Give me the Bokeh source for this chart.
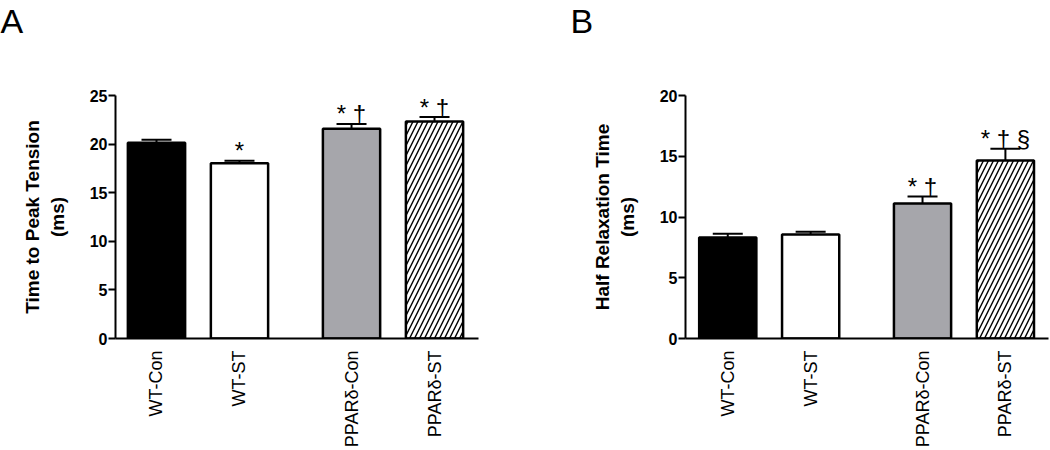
import math
from bokeh.plotting import figure
from bokeh.layouts import row
from bokeh.models import (ColumnDataSource, Range1d, FixedTicker, Whisker, TeeHead, Title)
from bokeh.core.properties import value
from bokeh.embed import file_html
from bokeh.resources import INLINE

# ---- data ----
groups = ["WT-Con", "WT-ST", "PPARδ-Con", "PPARδ-ST"]
xpos = [1.0, 2.0, 3.35, 4.35]
fills = ["black", "white", "#a6a6ab", "white"]
hatches = [" ", " ", " ", "/"]

ttp_mean = [20.13, 18.04, 21.57, 22.33]
ttp_sem = [0.31, 0.24, 0.50, 0.45]
ttp_marks = ["", "*", "* †", "* †"]

hrt_mean = [8.31, 8.56, 11.12, 14.65]
hrt_sem = [0.31, 0.23, 0.56, 0.97]
hrt_marks = ["", "", "* †", "* † §"]

FONT = "Liberation Sans"
TOP = 95       # px above frame
BOTTOM = 112   # px below frame
H = 450


def panel(letter, letter_offset, means, sems, marks, ymax, yticks, ylabel, xrange,
          width, left, right):
    upper = [m + s for m, s in zip(means, sems)]
    src = ColumnDataSource(dict(x=xpos, top=means, upper=upper, lower=means,
                                fill=fills, hatch=hatches, marks=marks))
    p = figure(width=width, height=H, output_backend="svg", toolbar_location=None,
               x_range=Range1d(*xrange), y_range=Range1d(0, ymax),
               min_border_left=left, min_border_right=right,
               min_border_top=TOP, min_border_bottom=BOTTOM, title=letter)
    p.outline_line_color = None
    p.grid.visible = False
    p.background_fill_color = "white"
    p.border_fill_color = "white"

    t = p.title
    t.align = "left"
    t.vertical_align = "top"
    t.offset = letter_offset
    t.standoff = 0
    t.text_font = FONT
    t.text_font_style = "normal"
    t.text_font_size = "34px"
    t.text_color = "black"
    # spacer between panel letter and the frame
    p.add_layout(Title(text=" ", text_font_size="1px", standoff=51), "above")

    p.vbar(x="x", top="top", width=0.69, bottom=0, source=src,
           fill_color="fill", line_color="black", line_width=2.5,
           hatch_pattern="hatch", hatch_color="black", hatch_scale=10, hatch_weight=1.4)

    w = Whisker(source=src, base="x", upper="upper", lower="lower", dimension="height",
                line_width=2, line_color="black",
                upper_head=TeeHead(size=30, line_width=2, line_color="black"),
                lower_head=None)
    p.add_layout(w)

    p.text(x="x", y="upper", text="marks", source=src, text_align="center",
           text_baseline="alphabetic", text_font=value(FONT), text_font_size="24px",
           text_color="black", y_offset=-10)

    # y axis
    ya = p.yaxis[0]
    ya.ticker = FixedTicker(ticks=yticks)
    ya.minor_tick_line_color = None
    ya.major_tick_in = 0
    ya.major_tick_out = 7
    ya.major_tick_line_width = 2
    ya.major_tick_line_color = "black"
    ya.axis_line_width = 2
    ya.axis_line_color = "black"
    ya.major_label_text_font = FONT
    ya.major_label_text_font_style = "bold"
    ya.major_label_text_font_size = "16px"
    ya.major_label_text_color = "black"
    ya.major_label_standoff = 1
    ya.axis_label = ylabel
    ya.axis_label_text_font = FONT
    ya.axis_label_text_font_style = "bold"
    ya.axis_label_text_font_size = "19px"
    ya.axis_label_text_color = "black"
    ya.axis_label_standoff = 19

    # x axis
    xa = p.xaxis[0]
    xa.ticker = FixedTicker(ticks=xpos)
    xa.major_label_overrides = {x: g for x, g in zip(xpos, groups)}
    xa.minor_tick_line_color = None
    xa.major_tick_in = 0
    xa.major_tick_out = 0
    xa.axis_line_width = 2
    xa.axis_line_color = "black"
    xa.major_label_orientation = math.pi / 2
    xa.major_label_text_font = FONT
    xa.major_label_text_font_size = "18px"
    xa.major_label_text_color = "black"
    xa.major_label_standoff = 12
    return p


pA = panel("A", -115, ttp_mean, ttp_sem, ttp_marks, 25, [0, 5, 10, 15, 20, 25],
           "Time to Peak Tension\n(ms)", (0.506, 4.88), 530, 115, 52)
pB = panel("B", -115, hrt_mean, hrt_sem, hrt_marks, 20, [0, 5, 10, 15, 20],
           "Half Relaxation Time\n(ms)", (0.49, 4.87), 520, 155, 2)

layout = row(pA, pB)
open("out.html", "w").write(file_html(layout, INLINE))
